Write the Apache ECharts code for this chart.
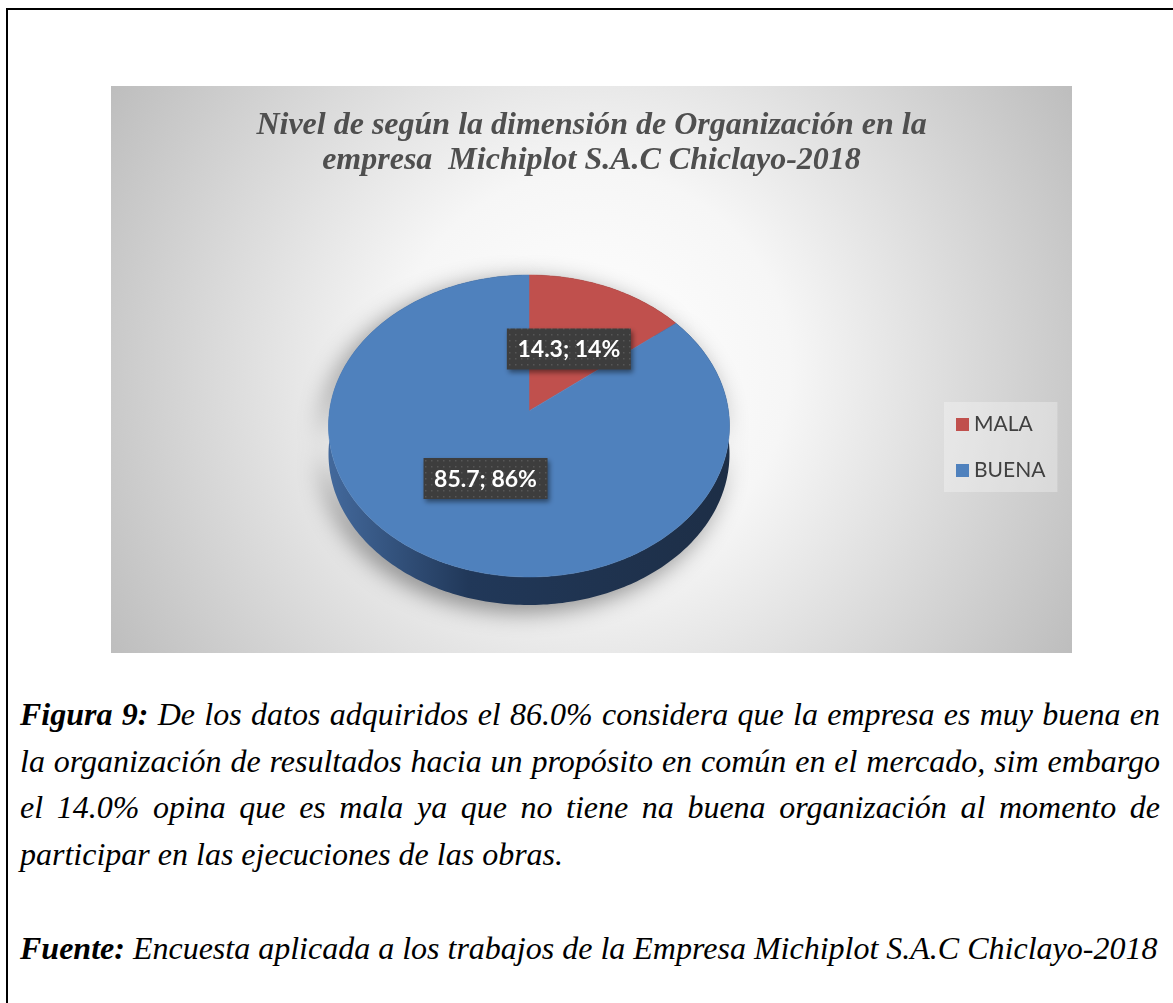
<!DOCTYPE html>
<html>
<head>
<meta charset="utf-8">
<script src="https://cdn.jsdelivr.net/npm/echarts@6/dist/echarts.min.js"></script>
<style>
  html, body { margin: 0; padding: 0; background: #fff; }
  body { width: 1173px; height: 1003px; overflow: hidden; position: relative; }
  #frame { position: absolute; left: 6px; top: 8px; width: 1300px; height: 1100px;
           border-left: 2px solid #000; border-top: 2px solid #000; }
  #chart { position: absolute; left: 111px; top: 86px; width: 961px; height: 567px; }
  .cap { position: absolute; left: 20px; width: 1140px; font-family: 'Liberation Serif', 'Times New Roman', serif;
         font-style: italic; font-size: 32px; color: #000; line-height: 46.5px; white-space: nowrap; }
  .cap b { font-weight: bold; }
  .just { text-align: justify; text-align-last: justify; white-space: normal; }
</style>
</head>
<body>
<div id="frame"></div>
<div id="chart"></div>
<div class="cap" style="top:691px;">
  <div class="just"><b>Figura 9:</b> De los datos adquiridos el 86.0% considera que la empresa es muy buena en</div>
  <div class="just">la organización de resultados hacia un propósito en común en el mercado, sim embargo</div>
  <div class="just">el 14.0% opina que es mala ya que no tiene na buena organización al momento de</div>
  <div>participar en las ejecuciones de las obras.</div>
</div>
<div class="cap" style="top:925px;"><b>Fuente:</b> Encuesta aplicada a los trabajos de la Empresa Michiplot S.A.C Chiclayo-2018</div>
<script>
// ---- data ----
const chartTitle = ['Nivel de según la dimensión de Organización en la', 'empresa  Michiplot S.A.C Chiclayo-2018'];
const categories = ['MALA', 'BUENA'];
const values = [14.3, 85.7];

// ---- styles / geometry ----
const topColors = ['#c0504d', '#4f81bd'];
const sideStops = [
  [[0, '#8e3b39'], [0.35, '#5e2726'], [1, '#4e201f']],
  [[0, '#43699c'], [0.35, '#213859'], [1, '#1d2e46']]
];
const CX = 418, CY = 340, RX = 200.5, RY = 151, DEPTH = 28, K = -0.1, LABEL_R = 0.48;
const total = values.reduce((a, b) => a + b, 0);

function proj(u, v, dy) {
  const w = 1 + K * v;
  const X = u * Math.sqrt(1 - K * K) / w;
  const Y = (v + K) / w;
  return [CX + RX * X, CY + RY * Y + dy];
}
function rim(phi, dy) { return proj(Math.sin(phi), -Math.cos(phi), dy); }

// dotted pattern for label boxes
const pat = document.createElement('canvas');
pat.width = 6; pat.height = 6;
const pctx = pat.getContext('2d');
pctx.fillStyle = '#3d3d3d'; pctx.fillRect(0, 0, 6, 6);
pctx.fillStyle = '#575757'; pctx.fillRect(2, 2, 1.5, 1.5);

function renderSlice(params, api) {
  const i = params.seriesIndex;
  let before = 0;
  for (let j = 0; j < i; j++) before += values[j];
  const val = api.value(0);
  const a0 = before / total * Math.PI * 2;
  const a1 = (before + val) / total * Math.PI * 2;
  const n = Math.max(2, Math.ceil((a1 - a0) / (Math.PI / 180)));
  const topPts = [], botPts = [];
  for (let k = 0; k <= n; k++) {
    const phi = a0 + (a1 - a0) * k / n;
    topPts.push(rim(phi, 0));
    botPts.push(rim(phi, DEPTH));
  }
  const sidePts = topPts.concat(botPts.slice().reverse());
  const facePts = [proj(0, 0, 0)].concat(topPts);
  const mid = (a0 + a1) / 2;
  const lp = proj(LABEL_R * Math.sin(mid), -LABEL_R * Math.cos(mid), 0);
  const pct = Math.round(val / total * 100);
  const labelText = val + '; ' + pct + '%';
  const bw = 124, bh = 41;
  return {
    type: 'group',
    children: [
      {
        type: 'polygon', z2: 1,
        shape: { points: sidePts },
        style: {
          fill: { type: 'linear', x: CX - RX, y: 0, x2: CX + RX, y2: 0, global: true,
                  colorStops: sideStops[i].map(s => ({ offset: s[0], color: s[1] })) },
          shadowBlur: 24, shadowColor: 'rgba(0,0,0,0.45)', shadowOffsetX: -6, shadowOffsetY: 6
        }
      },
      {
        type: 'polygon', z2: 5,
        shape: { points: facePts },
        style: { fill: topColors[i], stroke: topColors[i], lineWidth: 0.5 }
      },
      {
        type: 'rect', z2: 10,
        shape: { x: lp[0] - bw / 2, y: lp[1] - bh / 2, width: bw, height: bh },
        style: { fill: { image: pat, repeat: 'repeat' }, shadowBlur: 5, shadowColor: 'rgba(0,0,0,0.45)', shadowOffsetX: 2, shadowOffsetY: 3 }
      },
      {
        type: 'text', z2: 11,
        style: { text: labelText, x: lp[0], y: lp[1] + 1, align: 'center', verticalAlign: 'middle',
                 fill: '#ffffff', fontFamily: 'Lato', fontWeight: 'bold', fontSize: 23 }
      }
    ]
  };
}

const chart = echarts.init(document.getElementById('chart'), null, { renderer: 'canvas' });
chart.setOption({
  animation: false,
  backgroundColor: {
    type: 'radial', x: 0.5, y: 0.5, r: 1.0,
    colorStops: [
      { offset: 0, color: '#ffffff' },
      { offset: 0.35, color: '#f6f6f6' },
      { offset: 1, color: '#bcbcbc' }
    ]
  },
  title: {
    text: chartTitle.join('\n'),
    left: 'center', top: 22, padding: 0,
    textStyle: { fontFamily: 'Liberation Serif', fontStyle: 'italic', fontWeight: 'bold',
                 fontSize: 32, lineHeight: 35, color: '#4f4f4f' }
  },
  legend: {
    data: categories,
    orient: 'vertical',
    left: 833, top: 316,
    padding: [12, 12, 11, 12],
    itemWidth: 13, itemHeight: 13, itemGap: 25,
    icon: 'rect',
    backgroundColor: 'rgba(255,255,255,0.3)',
    textStyle: { fontFamily: 'Lato', fontSize: 21, color: '#404040' }
  },
  series: categories.map((name, i) => ({
    type: 'custom',
    name: name,
    coordinateSystem: 'none',
    itemStyle: { color: topColors[i] },
    data: [values[i]],
    renderItem: renderSlice
  }))
});
</script>
</body>
</html>
